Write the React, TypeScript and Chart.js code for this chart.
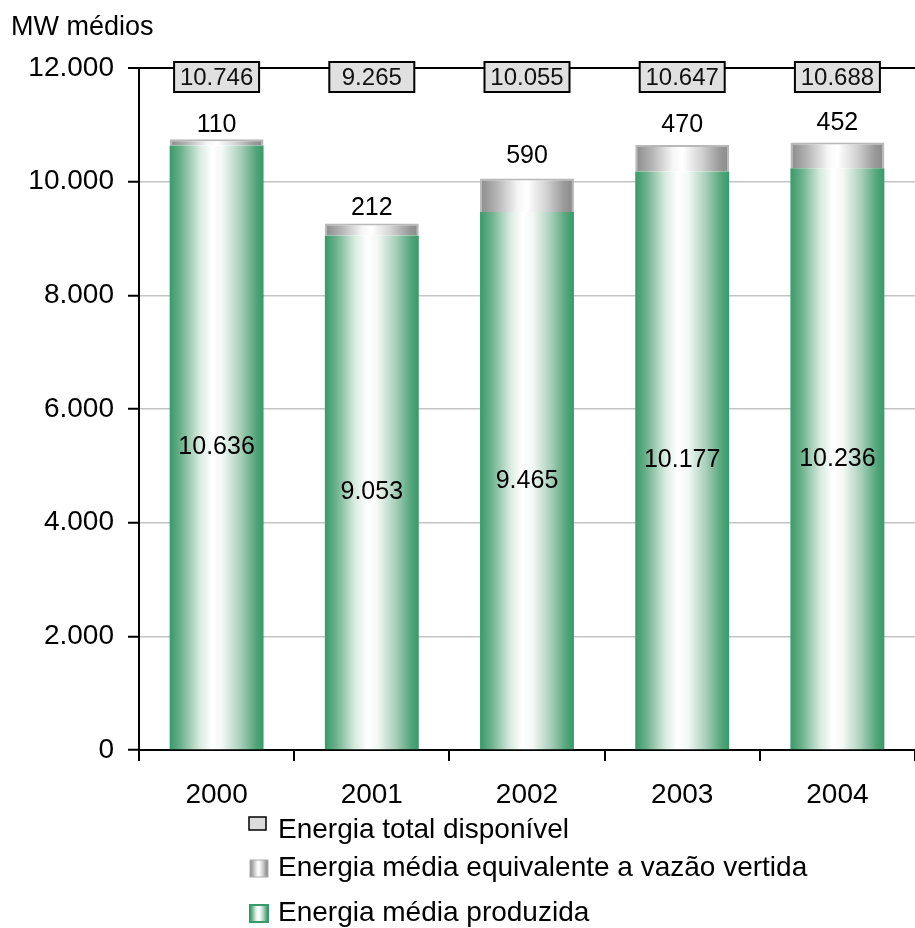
import React, { useEffect, useRef } from "react";
import { Chart, registerables } from "chart.js";

Chart.register(...registerables);

const years = ["2000", "2001", "2002", "2003", "2004"];
const produced = [10636, 9053, 9465, 10177, 10236];
const spilled = [110, 212, 590, 470, 452];
const totals = [10746, 9265, 10055, 10647, 10688];
const yTicks = [0, 2000, 4000, 6000, 8000, 10000, 12000];
const legendLabels = [
  "Energia total disponível",
  "Energia média equivalente a vazão vertida",
  "Energia média produzida",
];
const unitLabel = "MW médios";

const FONT = "'Liberation Sans', Arial, sans-serif";
const CAT_PCT = 0.605;

function fmt(v: number) {
  return v.toLocaleString("de-DE");
}

function greenGrad(ctx: CanvasRenderingContext2D, x0: number, x1: number) {
  const g = ctx.createLinearGradient(x0, 0, x1, 0);
  g.addColorStop(0, "#379a69");
  g.addColorStop(0.12, "#6cb18c");
  g.addColorStop(0.32, "#d8ebe0");
  g.addColorStop(0.45, "#ffffff");
  g.addColorStop(0.56, "#f3f8f5");
  g.addColorStop(0.75, "#a9d0bb");
  g.addColorStop(0.92, "#52a57a");
  g.addColorStop(1, "#379a69");
  return g;
}

function grayGrad(ctx: CanvasRenderingContext2D, x0: number, x1: number) {
  const g = ctx.createLinearGradient(x0, 0, x1, 0);
  g.addColorStop(0, "#8a8a8a");
  g.addColorStop(0.18, "#b5b5b5");
  g.addColorStop(0.4, "#f6f6f6");
  g.addColorStop(0.5, "#ffffff");
  g.addColorStop(0.7, "#d4d4d4");
  g.addColorStop(0.9, "#999999");
  g.addColorStop(1, "#8a8a8a");
  return g;
}

function barBg(kind: "green" | "gray") {
  return (c: any) => {
    const chart = c.chart;
    const fallback = kind === "green" ? "#379a69" : "#aaaaaa";
    const xs = chart.scales && chart.scales.x;
    if (!xs || c.dataIndex === undefined) return fallback;
    const center = xs.getPixelForValue(c.dataIndex);
    const w = (xs.width / years.length) * CAT_PCT;
    const x0 = center - w / 2;
    const x1 = center + w / 2;
    if (!isFinite(x0) || !isFinite(x1) || !(w > 0)) return fallback;
    return kind === "green" ? greenGrad(chart.ctx, x0, x1) : grayGrad(chart.ctx, x0, x1);
  };
}

const overlayPlugin = {
  id: "overlay",
  afterDatasetsDraw(chart: any) {
    const ctx: CanvasRenderingContext2D = chart.ctx;
    const area = chart.chartArea;
    const xs = chart.scales.x;
    const m0 = chart.getDatasetMeta(0);
    const m1 = chart.getDatasetMeta(1);
    ctx.save();
    ctx.textAlign = "center";
    years.forEach((_, i) => {
      const cx = xs.getPixelForValue(i);
      const bw = 85, bh = 30;
      const by = area.top + 9;
      ctx.fillStyle = "#e0e0e0";
      ctx.fillRect(cx - bw / 2, by - bh / 2, bw, bh);
      ctx.strokeStyle = "#000";
      ctx.lineWidth = 2;
      ctx.strokeRect(cx - bw / 2, by - bh / 2, bw, bh);
      ctx.fillStyle = "#111";
      ctx.font = `24px ${FONT}`;
      ctx.textBaseline = "middle";
      ctx.fillText(fmt(totals[i]), cx, by + 1);
      const e1 = m1.data[i];
      const segH = Math.abs(e1.base - e1.y);
      ctx.font = `25px ${FONT}`;
      ctx.fillStyle = "#000";
      ctx.fillText(fmt(spilled[i]), cx, e1.y - (12 + segH * 0.3));
      const e0 = m0.data[i];
      ctx.fillText(fmt(produced[i]), cx, (e0.y + e0.base) / 2);
    });
    ctx.restore();
  },
  afterDraw(chart: any) {
    const ctx: CanvasRenderingContext2D = chart.ctx;
    ctx.save();
    ctx.fillStyle = "#000";
    ctx.font = `27px ${FONT}`;
    ctx.textAlign = "left";
    ctx.textBaseline = "middle";
    ctx.fillText(unitLabel, 11, 28);

    const rows = [829, 867.5, 912.5];
    const tx = 278;
    ctx.fillStyle = "#dcdcdc";
    ctx.fillRect(249, 817, 17, 13);
    ctx.strokeStyle = "#000";
    ctx.lineWidth = 1.5;
    ctx.strokeRect(249, 817, 17, 13);
    ctx.fillStyle = grayGrad(ctx, 250, 268);
    ctx.fillRect(250, 860, 18, 17);
    ctx.strokeStyle = "#aaa";
    ctx.lineWidth = 1;
    ctx.strokeRect(250, 860, 18, 17);
    ctx.fillStyle = greenGrad(ctx, 250, 268);
    ctx.fillRect(250, 905, 18, 17);
    ctx.strokeStyle = "#379a69";
    ctx.lineWidth = 2;
    ctx.strokeRect(250, 905, 18, 17);

    ctx.fillStyle = "#000";
    ctx.font = `28px ${FONT}`;
    legendLabels.forEach((t, i) => ctx.fillText(t, tx, rows[i] + 1));
    ctx.restore();
  },
};

export default function App() {
  const ref = useRef<HTMLCanvasElement | null>(null);
  useEffect(() => {
    if (!ref.current) return;
    const chart = new Chart(ref.current, {
      type: "bar",
      data: {
        labels: years,
        datasets: [
          {
            label: legendLabels[2],
            data: produced,
            backgroundColor: barBg("green") as any,
            borderWidth: 0,
            barPercentage: 1,
            categoryPercentage: CAT_PCT,
          },
          {
            label: legendLabels[1],
            data: spilled,
            backgroundColor: barBg("gray") as any,
            borderColor: "#b8b8b8",
            borderWidth: 2,
            barPercentage: 1,
            categoryPercentage: CAT_PCT,
          },
        ],
      },
      options: {
        responsive: false,
        animation: false,
        events: [],
        layout: { padding: { top: 68, left: 0, right: 0, bottom: 0 } },
        plugins: {
          legend: { display: false },
          tooltip: { enabled: false },
          title: { display: false },
        },
        scales: {
          x: {
            stacked: true,
            afterFit: (s: any) => {
              s.height = 178;
            },
            grid: {
              offset: true,
              drawOnChartArea: false,
              tickLength: 11,
              color: "#000",
              lineWidth: 2,
            },
            border: { display: true, color: "#000", width: 2 },
            ticks: {
              color: "#000",
              font: { family: FONT, size: 28 },
              padding: 17,
            },
          },
          y: {
            stacked: true,
            min: 0,
            max: 12000,
            afterFit: (s: any) => {
              s.width = 139;
            },
            afterBuildTicks: (s: any) => {
              s.ticks = yTicks.map((v) => ({ value: v }));
            },
            grid: {
              color: (c: any) => (c.tick && c.tick.value === 12000 ? "#000" : "#c4c4c4"),
              lineWidth: (c: any) => (c.tick && c.tick.value === 12000 ? 2 : 1.5),
              tickColor: "#000",
              tickLength: 11,
              tickWidth: 2,
            },
            border: { display: true, color: "#000", width: 2 },
            ticks: {
              color: "#000",
              font: { family: FONT, size: 28 },
              padding: 14,
              callback: (v: any) => fmt(Number(v)),
            },
          },
        },
      },
      plugins: [overlayPlugin],
    });
    return () => chart.destroy();
  }, []);
  return (
    <div style={{ position: "absolute", left: 0, top: 0, width: 915, height: 928, background: "#fff" }}>
      <canvas ref={ref} width={915} height={928} />
    </div>
  );
}
